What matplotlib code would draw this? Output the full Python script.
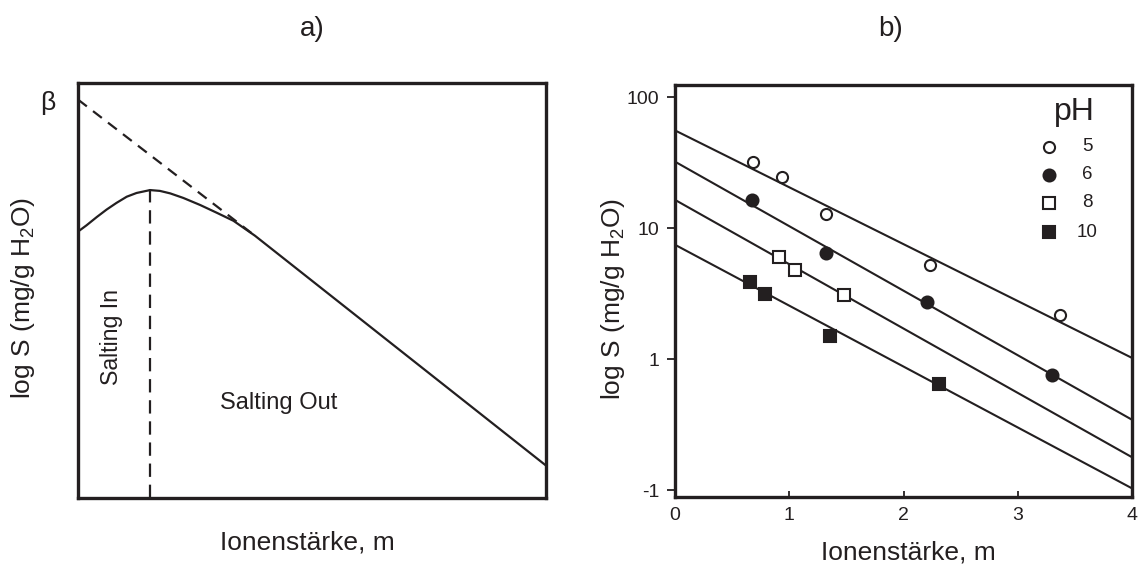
import numpy as np
import matplotlib
matplotlib.use("Agg")
import matplotlib.pyplot as plt
from matplotlib.ticker import NullLocator, FixedLocator, FixedFormatter

plt.rcParams['font.family'] = ['Liberation Sans', 'DejaVu Sans']
plt.rcParams['mathtext.default'] = 'regular'

INK = '#231f20'

# ---------- a) schematic salting in / salting out ----------
curve_x = [0.0, 0.018, 0.040, 0.061, 0.082, 0.104, 0.125, 0.154, 0.175,
           0.197, 0.225, 0.261, 0.297, 0.332, 0.378, 1.0]
curve_y = [0.642, 0.657, 0.677, 0.695, 0.711, 0.726, 0.735, 0.742, 0.740,
           0.734, 0.723, 0.706, 0.687, 0.668, 0.632, 0.078]
extrap_x = [0.0, 0.378]
extrap_y = [0.96, 0.632]
peak_x = 0.154
peak_y = 0.747

# ---------- b) measured solubility vs ionic strength ----------
ph_labels = ['5', '6', '8', '10']
ph_markers = ['o', 'o', 's', 's']
ph_filled = [False, True, False, True]
ph_msize = [8, 8.6, 8.2, 8.8]
m_vals = [
    [0.68, 0.94, 1.32, 2.23, 3.37],
    [0.675, 1.32, 2.21, 3.30],
    [0.906, 1.05, 1.475],
    [0.656, 0.79, 1.36, 2.31],
]
s_vals = [
    [31.8, 24.7, 12.9, 5.22, 2.18],
    [16.4, 6.50, 2.74, 0.76],
    [6.05, 4.76, 3.06],
    [3.90, 3.16, 1.50, 0.65],
]
# fitted lines: S at m = 0 and at m = 4
line_m = [0, 4]
line_start = [55.6, 32.1, 16.4, 7.45]
line_end = [1.02, 0.344, 0.178, 0.103]

y_ticks = [100, 10, 1, 0.1]
y_ticklabels = ['100', '10', '1', '-1']
x_ticks = [0, 1, 2, 3, 4]

fig = plt.figure(figsize=(11.41, 5.67), dpi=100)
ax1 = fig.add_axes([0.0684, 0.1217, 0.4102, 0.7319])
ax2 = fig.add_axes([0.5916, 0.1235, 0.4005, 0.7266])

# --- panel a ---
ax1.plot(curve_x, curve_y, color=INK, lw=1.6, solid_capstyle='round')
ax1.plot(extrap_x, extrap_y, color=INK, lw=1.6, ls=(0, (5, 3.5)))
ax1.plot([peak_x, peak_x], [0, peak_y], color=INK, lw=1.6, ls=(0, (6, 3.5)))
ax1.set_xlim(0, 1)
ax1.set_ylim(0, 1)
ax1.set_xticks([])
ax1.set_yticks([])
for sp in ax1.spines.values():
    sp.set_linewidth(2.4)
    sp.set_color(INK)
ax1.text(-0.064, 0.952, 'β', transform=ax1.transAxes, fontsize=19,
         ha='center', va='center', color=INK)
ax1.text(0.071, 0.388, 'Salting In', transform=ax1.transAxes, fontsize=16.7,
         rotation=90, ha='center', va='center', color=INK)
ax1.text(0.428, 0.229, 'Salting Out', transform=ax1.transAxes, fontsize=17,
         ha='center', va='center', color=INK)
ax1.text(-0.1175, 0.482, 'log S (mg/g H$_2$O)', transform=ax1.transAxes,
         fontsize=19, rotation=90, ha='center', va='center', color=INK)
ax1.text(0.489, -0.108, 'Ionenstärke, m', transform=ax1.transAxes,
         fontsize=19, ha='center', va='center', color=INK)

# --- panel b ---
for i in range(len(ph_labels)):
    ax2.plot(line_m, [line_start[i], line_end[i]], color=INK, lw=1.5)
for i in range(len(ph_labels)):
    face = INK if ph_filled[i] else 'white'
    ax2.plot(m_vals[i], s_vals[i], ls='none', marker=ph_markers[i],
             ms=ph_msize[i], mfc=face, mec=INK, mew=1.5, zorder=3)

ax2.set_yscale('log')
ax2.set_xlim(0, 4)
ax2.set_ylim(0.0885, 123.5)
ax2.yaxis.set_major_locator(FixedLocator(y_ticks))
ax2.yaxis.set_major_formatter(FixedFormatter(y_ticklabels))
ax2.yaxis.set_minor_locator(NullLocator())
ax2.set_xticks(x_ticks)
ax2.tick_params(axis='x', direction='in', length=4.5, width=1.3, pad=7,
                labelsize=14, colors=INK)
ax2.tick_params(axis='y', direction='out', length=5.8, width=1.3, pad=5.5,
                labelsize=14, colors=INK)
for sp in ax2.spines.values():
    sp.set_linewidth(2.4)
    sp.set_color(INK)
ax2.text(-0.136, 0.481, 'log S (mg/g H$_2$O)', transform=ax2.transAxes,
         fontsize=19, rotation=90, ha='center', va='center', color=INK)
ax2.text(0.51, -0.134, 'Ionenstärke, m', transform=ax2.transAxes,
         fontsize=19, ha='center', va='center', color=INK)

# legend drawn by hand
ax2.text(0.875, 0.934, 'pH', transform=ax2.transAxes, fontsize=23,
         ha='center', va='center', color=INK)
leg_y = [0.850, 0.782, 0.714, 0.643]
for i in range(len(ph_labels)):
    face = INK if ph_filled[i] else 'white'
    ax2.plot([0.818], [leg_y[i]], transform=ax2.transAxes, ls='none',
             marker=ph_markers[i], ms=ph_msize[i], mfc=face, mec=INK, mew=1.5)
    ax2.text(0.902, leg_y[i], ph_labels[i], transform=ax2.transAxes,
             fontsize=13.5, ha='center', va='center', color=INK)

fig.text(312 / 1141, 1 - 29 / 567, 'a)', fontsize=20, ha='center',
         va='center', color=INK)
fig.text(891 / 1141, 1 - 29 / 567, 'b)', fontsize=20, ha='center',
         va='center', color=INK)

fig.savefig('out.png', dpi=100)
